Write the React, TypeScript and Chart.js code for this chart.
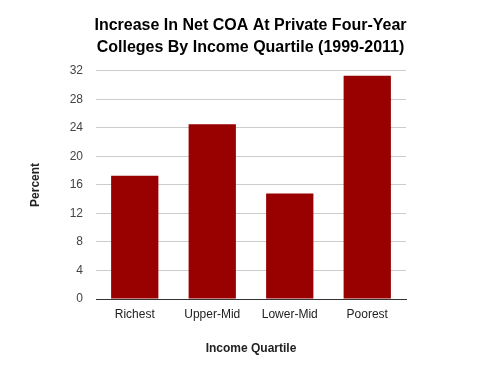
import React, { useEffect, useRef } from "react";
import { Chart, registerables } from "chart.js";

Chart.register(...registerables);

const categories = ["Richest", "Upper-Mid", "Lower-Mid", "Poorest"];
const percentValues = [17.3, 24.5, 14.8, 31.3];
const titleLines = ["Increase In Net COA At Private Four-Year", "Colleges By Income Quartile (1999-2011)"];
const yAxisTitle = "Percent";
const xAxisTitle = "Income Quartile";
const yMin = 0;
const yMax = 32;
const yStep = 4;

const FONT = "Arial, 'Liberation Sans', sans-serif";

export default function App() {
  const ref = useRef<HTMLCanvasElement | null>(null);

  useEffect(() => {
    document.body.style.margin = "0";
    const canvas = ref.current;
    if (!canvas) return;
    const chart = new Chart(canvas, {
      type: "bar",
      data: {
        labels: categories,
        datasets: [
          {
            data: percentValues,
            backgroundColor: "#990000",
            borderWidth: 0,
            barPercentage: 0.61,
            categoryPercentage: 1,
          },
        ],
      },
      options: {
        animation: false,
        responsive: false,
        maintainAspectRatio: false,
        layout: { padding: { left: 0, right: 0, top: 0, bottom: 0 } },
        plugins: {
          legend: { display: false },
          tooltip: { enabled: false },
          title: {
            display: true,
            text: titleLines,
            color: "#000",
            font: { family: FONT, size: 16, weight: "bold", lineHeight: 1.34 },
            padding: { top: 15, bottom: 13 },
            align: "center",
          },
        },
        scales: {
          x: {
            grid: { display: false, drawTicks: false },
            border: { display: true, color: "#333", width: 1 },
            ticks: {
              color: "#222",
              padding: 8,
              font: { family: FONT, size: 12 },
            },
            title: {
              display: true,
              text: xAxisTitle,
              color: "#222",
              font: { family: FONT, size: 12, weight: "bold" },
              padding: { top: 0, bottom: 15 },
            },
            afterFit: (scale: any) => {
              scale.height = 72;
            },
          },
          y: {
            min: yMin,
            max: yMax,
            grid: { color: "#cccccc", drawTicks: false, lineWidth: 1 },
            border: { display: false },
            ticks: {
              stepSize: yStep,
              color: "#444",
              padding: 13,
              font: { family: FONT, size: 12 },
            },
            title: {
              display: true,
              text: yAxisTitle,
              color: "#222",
              font: { family: FONT, size: 12, weight: "bold" },
              padding: { top: 28, bottom: 0 },
            },
            afterFit: (scale: any) => {
              scale.width = 96;
            },
          },
          yRight: {
            type: "linear",
            position: "right",
            display: true,
            grid: { display: false, drawTicks: false },
            border: { display: false },
            ticks: { display: false },
            afterFit: (scale: any) => {
              scale.width = 95;
            },
          },
        },
      },
    });
    return () => chart.destroy();
  }, []);

  return (
    <div style={{ width: 501, height: 371, background: "#fff" }}>
      <canvas ref={ref} width={501} height={371} style={{ display: "block", width: 501, height: 371 }} />
    </div>
  );
}
